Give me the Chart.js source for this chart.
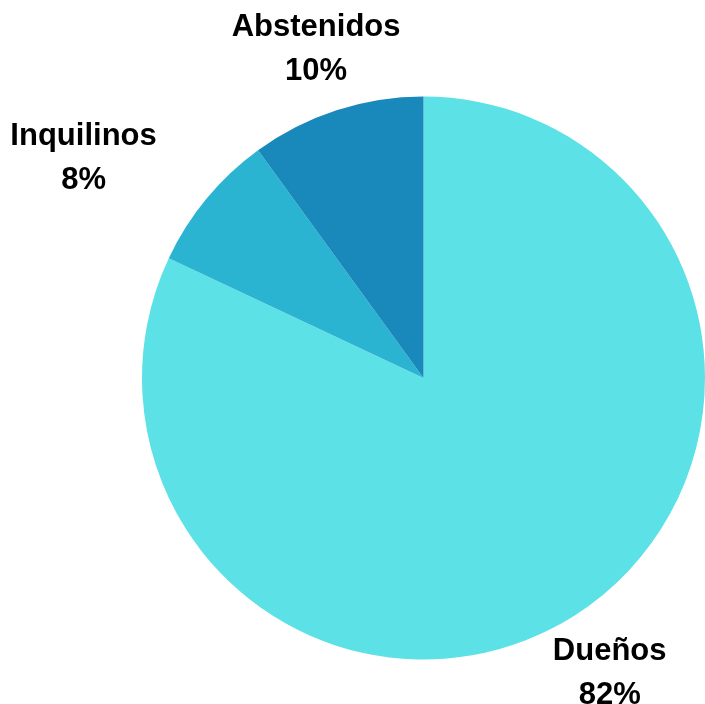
<!DOCTYPE html>
<html>
<head>
<meta charset="utf-8">
<script src="https://cdn.jsdelivr.net/npm/chart.js@4"></script>
<style>
  html, body { margin: 0; padding: 0; background: #fff; overflow: hidden; }
  #wrap { width: 705px; height: 704px; position: relative; }
</style>
</head>
<body>
<div id="wrap"><canvas id="pie"></canvas></div>
<script>
// Data
const labels = ['Dueños', 'Inquilinos', 'Abstenidos'];
const values = [82, 8, 10];
const colors = ['#5CE1E6', '#2BB3D2', '#1889BA'];

// Labels outside the slices, two lines: name and percent
const outerLabels = {
    id: 'outerLabels',
    afterDatasetsDraw(chart) {
        const ctx = chart.ctx;
        const meta = chart.getDatasetMeta(0);
        const total = values.reduce((a, b) => a + b, 0);
        ctx.save();
        ctx.font = 'bold 31px "Liberation Sans", Arial, sans-serif';
        ctx.fillStyle = '#000';
        ctx.textBaseline = 'middle';
        meta.data.forEach((arc, i) => {
            const mid = (arc.startAngle + arc.endAngle) / 2;
            const dist = arc.outerRadius + 66;
            const x = arc.x + Math.cos(mid) * dist;
            const y = arc.y + Math.sin(mid) * dist + 1;
            const c = Math.cos(mid);
            ctx.textAlign = c < -0.7 ? 'right' : (c > 0.7 ? 'left' : 'center');
            const pct = Math.round(values[i] / total * 100) + '%';
            if (ctx.textAlign === 'right') {
                const w = ctx.measureText(labels[i]).width;
                ctx.fillText(labels[i], x + 1, y - 21);
                ctx.textAlign = 'center';
                ctx.fillText(pct, x + 1 - w / 2, y + 23);
            } else {
                ctx.fillText(labels[i], x, y - 21);
                ctx.fillText(pct, x, y + 23);
            }
        });
        ctx.restore();
    }
};

const ctx = document.getElementById('pie').getContext('2d');
new Chart(ctx, {
    type: 'pie',
    data: {
        labels: labels,
        datasets: [{
            data: values,
            backgroundColor: colors,
            borderWidth: 0
        }]
    },
    options: {
        responsive: true,
        maintainAspectRatio: false,
        animation: false,
        layout: { padding: { left: 142, right: 0, top: 96, bottom: 44 } },
        plugins: {
            legend: { display: false },
            tooltip: { enabled: false }
        }
    },
    plugins: [outerLabels]
});
</script>
</body>
</html>
